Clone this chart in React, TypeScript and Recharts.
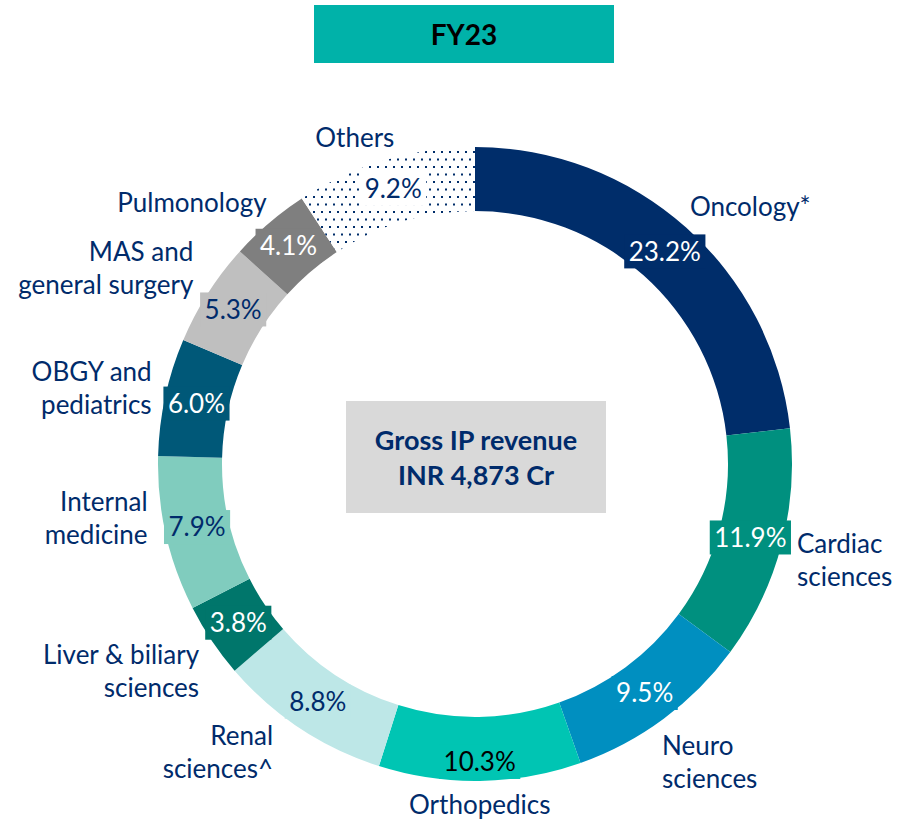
import React from 'react';
import { PieChart, Pie, Cell } from 'recharts';

// ---------- data ----------
const categories = [
  'Oncology*',
  'Cardiac sciences',
  'Neuro sciences',
  'Orthopedics',
  'Renal sciences^',
  'Liver & biliary sciences',
  'Internal medicine',
  'OBGY and pediatrics',
  'MAS and general surgery',
  'Pulmonology',
  'Others',
];
const categoryLines = [
  ['Oncology*'],
  ['Cardiac', 'sciences'],
  ['Neuro', 'sciences'],
  ['Orthopedics'],
  ['Renal', 'sciences^'],
  ['Liver & biliary', 'sciences'],
  ['Internal', 'medicine'],
  ['OBGY and', 'pediatrics'],
  ['MAS and', 'general surgery'],
  ['Pulmonology'],
  ['Others'],
];
const shares = [23.2, 11.9, 9.5, 10.3, 8.8, 3.8, 7.9, 6.0, 5.3, 4.1, 9.2];
const shareLabels = ['23.2%', '11.9%', '9.5%', '10.3%', '8.8%', '3.8%', '7.9%', '6.0%', '5.3%', '4.1%', '9.2%'];
const title = 'FY23';
const centerLines = ['Gross IP revenue', 'INR 4,873 Cr'];

// ---------- styles ----------
const NAVY = '#002B6B';
const sliceColors = [
  '#002D6A', '#00907F', '#008FC0', '#00C5B3', '#BDE7E7', '#00766B',
  '#80CCBE', '#005878', '#BFBFBF', '#7F7F7F', 'url(#dots)',
];
const boxColors = [
  '#002D6A', '#00907F', '#008FC0', '#00C5B3', '#BDE7E7', '#00766B',
  '#80CCBE', '#005878', '#BFBFBF', '#7F7F7F', '#FFFFFF',
];
const pctColors = [
  '#FFFFFF', '#FFFFFF', '#FFFFFF', '#000000', NAVY, '#FFFFFF',
  NAVY, '#FFFFFF', NAVY, '#FFFFFF', NAVY,
];
// outer category label placement: [angle clockwise from top (deg), radius, anchor]
const nameLayout: [number, number, 'start' | 'middle' | 'end'][] = [
  [39.9, 335, 'start'],
  [106.6, 336, 'start'],
  [147.9, 352, 'start'],
  [179.2, 341, 'middle'],
  [215.0, 352, 'end'],
  [233.1, 345, 'end'],
  [260.5, 332, 'end'],
  [283.1, 332, 'end'],
  [304.8, 343, 'end'],
  [321.4, 334, 'end'],
  [339.8, 348, 'middle'],
];
const pctRadius = [285, 285, 285, 298, 285, 285, 285, 285, 287, 287, 287];

const FONT = 'Lato, "Open Sans", sans-serif';
const FS = 26;
const LINE_H = 33;
const RAD = Math.PI / 180;

const data = categories.map((c, i) => ({ name: c, value: shares[i] }));

let ctx: CanvasRenderingContext2D | null = null;
function measure(t: string): number {
  if (!ctx) {
    const c = document.createElement('canvas');
    ctx = c.getContext('2d');
  }
  if (!ctx) return t.length * 14;
  ctx.font = `${FS}px Lato`;
  return ctx.measureText(t).width;
}

const renderLabel = (props: any) => {
  const { cx, cy, midAngle, index } = props;
  // percentage label
  const r = pctRadius[index];
  const px = cx + r * Math.cos(-midAngle * RAD);
  const py = cy + r * Math.sin(-midAngle * RAD);
  const txt = shareLabels[index];
  const w = measure(txt) + 9;
  const h = 34;
  // category label
  const [ang, rr, anchor] = nameLayout[index];
  const nx = cx + rr * Math.sin(ang * RAD);
  const ny = cy - rr * Math.cos(ang * RAD);
  const lines = categoryLines[index];
  const startY = ny - ((lines.length - 1) * LINE_H) / 2;
  return (
    <g key={`lab-${index}`}>
      <rect x={px - w / 2} y={py - h / 2} width={w} height={h} fill={boxColors[index]} />
      <text
        x={px}
        y={py}
        dy="0.35em"
        textAnchor="middle"
        fill={pctColors[index]}
        fontSize={FS}
        fontFamily={FONT}
      >
        {txt}
      </text>
      <text x={nx} y={startY} textAnchor={anchor} fill={NAVY} fontSize={FS} fontFamily={FONT}>
        {lines.map((l, k) => (
          <tspan key={k} x={nx} y={startY + k * LINE_H} dy="0.35em">
            {l}
          </tspan>
        ))}
      </text>
    </g>
  );
};

export default function App() {
  return (
    <div style={{ position: 'absolute', left: 0, top: 0, width: 904, height: 820, background: '#fff' }}>
      <svg width={0} height={0} style={{ position: 'absolute' }}>
        <defs>
          <pattern id="dots" width={8} height={15} patternUnits="userSpaceOnUse">
            <rect width={8} height={15} fill="#FFFFFF" />
            <rect x={1} y={1} width={2} height={2} fill="#002D6A" />
            <rect x={5} y={8.5} width={2} height={2} fill="#002D6A" />
          </pattern>
        </defs>
      </svg>
      <div
        style={{
          position: 'absolute',
          left: 314,
          top: 5,
          width: 300,
          height: 58,
          background: '#00B2A9',
          display: 'flex',
          alignItems: 'center',
          justifyContent: 'center',
          fontFamily: FONT,
          fontWeight: 700,
          fontSize: 28,
          color: '#000',
        }}
      >
        {title}
      </div>
      <div
        style={{
          position: 'absolute',
          left: 346,
          top: 401,
          width: 260,
          height: 112,
          background: '#D9D9D9',
          display: 'flex',
          flexDirection: 'column',
          alignItems: 'center',
          justifyContent: 'center',
          fontFamily: FONT,
          fontWeight: 700,
          fontSize: 27,
          lineHeight: '35px',
          color: NAVY,
        }}
      >
        {centerLines.map((l, i) => (
          <div key={i}>{l}</div>
        ))}
      </div>
      <div style={{ position: 'absolute', left: 0, top: 0 }}>
        <PieChart width={904} height={820} margin={{ top: 0, right: 0, bottom: 0, left: 0 }}>
          <Pie
            data={data}
            dataKey="value"
            nameKey="name"
            cx={475}
            cy={464}
            innerRadius={253}
            outerRadius={317}
            startAngle={90}
            endAngle={-270}
            stroke="none"
            isAnimationActive={false}
            labelLine={false}
            label={renderLabel}
          >
            {data.map((d, i) => (
              <Cell key={d.name} fill={sliceColors[i]} />
            ))}
          </Pie>
        </PieChart>
      </div>
    </div>
  );
}
